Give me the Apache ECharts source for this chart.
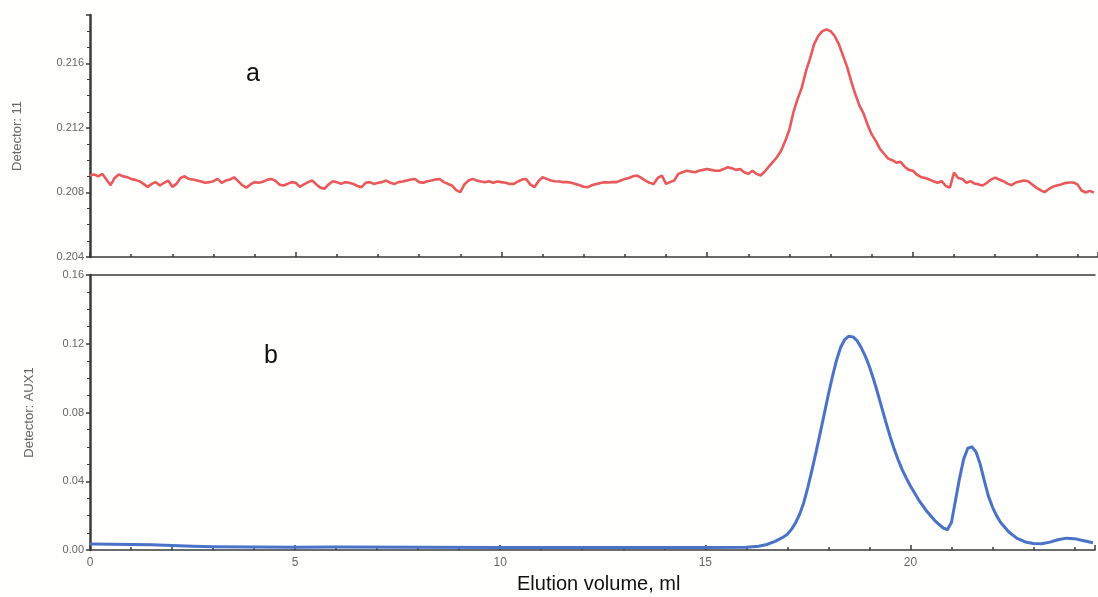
<!DOCTYPE html>
<html>
<head>
<meta charset="utf-8">
<script src="https://cdn.jsdelivr.net/npm/echarts@6/dist/echarts.min.js"></script>
<style>
html,body{margin:0;padding:0;background:#fff;}
#c{width:1098px;height:597px;}
</style>
</head>
<body>
<div id="c"></div>
<script>
// Elution volume (ml) grid for detector 11, step 0.1 from 0 to 24.4
const redStart = 0, redStep = 0.1;
const redValues = [
  0.20905,0.20912,0.20900,0.20915,0.20880,0.20845,0.20890,0.20912,0.20900,0.20895,
  0.20884,0.20878,0.20870,0.20853,0.20835,0.20853,0.20864,0.20843,0.20860,0.20874,
  0.20835,0.20853,0.20890,0.20900,0.20884,0.20880,0.20874,0.20868,0.20860,0.20864,
  0.20870,0.20884,0.20860,0.20874,0.20880,0.20894,0.20870,0.20845,0.20830,0.20850,
  0.20864,0.20860,0.20866,0.20878,0.20884,0.20874,0.20850,0.20843,0.20853,0.20864,
  0.20860,0.20835,0.20850,0.20864,0.20874,0.20850,0.20830,0.20823,0.20850,0.20870,
  0.20864,0.20853,0.20864,0.20860,0.20853,0.20840,0.20833,0.20860,0.20864,0.20853,
  0.20860,0.20864,0.20874,0.20860,0.20853,0.20864,0.20868,0.20874,0.20880,0.20884,
  0.20864,0.20860,0.20870,0.20874,0.20880,0.20884,0.20864,0.20853,0.20843,0.20815,
  0.20802,0.20850,0.20874,0.20884,0.20874,0.20868,0.20864,0.20870,0.20860,0.20868,
  0.20864,0.20860,0.20853,0.20853,0.20868,0.20880,0.20884,0.20850,0.20833,0.20870,
  0.20894,0.20884,0.20874,0.20870,0.20868,0.20864,0.20864,0.20860,0.20853,0.20845,
  0.20835,0.20833,0.20845,0.20853,0.20858,0.20864,0.20862,0.20864,0.20864,0.20874,
  0.20884,0.20890,0.20900,0.20905,0.20890,0.20874,0.20860,0.20853,0.20890,0.20905,
  0.20853,0.20864,0.20874,0.20915,0.20925,0.20935,0.20930,0.20925,0.20935,0.20940,
  0.20946,0.20940,0.20935,0.20935,0.20945,0.20956,0.20950,0.20940,0.20946,0.20925,
  0.20915,0.20935,0.20915,0.20905,0.20930,0.20960,0.20990,0.21020,0.21060,0.21120,
  0.21190,0.21300,0.21380,0.21450,0.21550,0.21630,0.21720,0.21770,0.21800,0.21810,
  0.21800,0.21770,0.21720,0.21650,0.21580,0.21490,0.21410,0.21340,0.21290,0.21220,
  0.21160,0.21120,0.21070,0.21040,0.21010,0.21000,0.20985,0.20990,0.20960,0.20940,
  0.20935,0.20910,0.20895,0.20890,0.20880,0.20870,0.20860,0.20870,0.20840,0.20830,
  0.20923,0.20890,0.20884,0.20860,0.20870,0.20855,0.20850,0.20843,0.20860,0.20880,
  0.20892,0.20880,0.20870,0.20855,0.20845,0.20862,0.20868,0.20874,0.20870,0.20850,
  0.20830,0.20815,0.20802,0.20820,0.20835,0.20843,0.20850,0.20858,0.20862,0.20862,
  0.20850,0.20812,0.20800,0.20810,0.20800
];

// Detector AUX1: elution volume (ml) and absorbance
const blueX = [0,0.5,1,1.5,2,2.5,3,4,5,6,8,10,12,14,15,16,16.3,16.5,16.7,16.9,
  17.0,17.1,17.2,17.3,17.4,17.5,17.6,17.7,17.8,17.9,18.0,18.1,18.2,18.3,18.4,18.5,18.6,18.7,18.8,18.9,
  19.0,19.1,19.2,19.3,19.4,19.5,19.6,19.7,19.8,19.9,20.0,20.2,20.4,20.6,20.8,20.9,
  21.0,21.1,21.2,21.3,21.4,21.5,21.6,21.7,21.8,21.9,22.0,22.1,22.2,22.4,22.6,22.8,
  23.0,23.2,23.4,23.6,23.8,24.0,24.2,24.45];
const blueY = [0.0035,0.0034,0.0032,0.0030,0.0026,0.0022,0.0019,0.0017,0.0016,0.0017,0.0016,0.0015,0.0015,0.0015,0.0015,0.0016,0.0022,0.0032,0.0050,0.0075,
  0.0092,0.0120,0.0158,0.0208,0.0275,0.0365,0.0465,0.0570,0.0680,0.0792,0.0905,0.1010,0.1105,0.1180,0.1225,0.1244,0.1240,0.1218,0.1178,0.1128,
  0.1068,0.0995,0.0915,0.0830,0.0745,0.0665,0.0590,0.0525,0.0468,0.0418,0.0372,0.0292,0.0225,0.0170,0.0128,0.0118,
  0.0160,0.0290,0.0420,0.0530,0.0592,0.0600,0.0570,0.0500,0.0405,0.0315,0.0250,0.0200,0.0160,0.0105,0.0068,0.0047,
  0.0038,0.0036,0.0046,0.0060,0.0069,0.0066,0.0055,0.0042];

const xTicks = [0,5,10,15,20];
const topTicks = [0.204,0.208,0.212,0.216];
const bottomTicks = [0.00,0.04,0.08,0.12,0.16];

const redData = redValues.map((v,i)=>[+(redStart + i*redStep).toFixed(1), v]);
const blueData = blueX.map((x,i)=>[x, blueY[i]]);

const axisCol = '#3a3a3a';
const labelCol = '#666';
const font = 'Liberation Sans, Arial, sans-serif';

const chart = echarts.init(document.getElementById('c'), null, {renderer:'canvas'});
chart.setOption({
  backgroundColor:'#fefefc',
  animation:false,
  grid:[
    {left:90,right:0,top:15,height:242},
    {left:90,right:0,top:275,height:275}
  ],
  xAxis:[
    {gridIndex:0,type:'value',min:0,max:24.5,interval:5,position:'bottom',
     axisLine:{onZero:false,lineStyle:{color:axisCol,width:1.5}},
     axisTick:{inside:true,length:5,lineStyle:{color:axisCol,width:1.5}},
     minorTick:{show:true,splitNumber:5,length:3,lineStyle:{color:axisCol,width:1.5}},
     axisLabel:{show:false},splitLine:{show:false}},
    {gridIndex:1,type:'value',min:0,max:24.5,interval:5,position:'bottom',
     axisLine:{onZero:false,lineStyle:{color:axisCol,width:1.5}},
     axisTick:{inside:true,length:5,lineStyle:{color:axisCol,width:1.5}},
     minorTick:{show:true,splitNumber:5,length:3,lineStyle:{color:axisCol,width:1.5}},
     axisLabel:{color:labelCol,fontSize:12,fontFamily:font,margin:7,
       formatter:v=>xTicks.includes(v)?String(v):''},
     splitLine:{show:false}},
    {gridIndex:1,type:'value',min:0,max:24.5,position:'top',
     axisLine:{onZero:false,lineStyle:{color:axisCol,width:1.5}},
     axisTick:{show:false},axisLabel:{show:false},splitLine:{show:false}}
  ],
  yAxis:[
    {gridIndex:0,type:'value',min:0.204,max:0.219,interval:0.004,
     name:'Detector: 11',nameLocation:'middle',nameGap:66,nameRotate:90,
     nameTextStyle:{color:labelCol,fontSize:13,fontFamily:font},
     axisLine:{onZero:false,lineStyle:{color:axisCol,width:2.5}},
     axisTick:{length:4,lineStyle:{color:axisCol,width:1.5}},
     minorTick:{show:true,splitNumber:4,length:3,lineStyle:{color:axisCol,width:1}},
     axisLabel:{color:labelCol,fontSize:11,fontFamily:font,margin:6,
       formatter:v=>topTicks.some(t=>Math.abs(t-v)<1e-7)?v.toFixed(3):''},
     splitLine:{show:false}},
    {gridIndex:1,type:'value',min:0,max:0.16,interval:0.04,
     name:'Detector: AUX1',nameLocation:'middle',nameGap:54,nameRotate:90,
     nameTextStyle:{color:labelCol,fontSize:13,fontFamily:font},
     axisLine:{onZero:false,lineStyle:{color:axisCol,width:2.5}},
     axisTick:{length:4,lineStyle:{color:axisCol,width:1.5}},
     minorTick:{show:true,splitNumber:4,length:3,lineStyle:{color:axisCol,width:1}},
     axisLabel:{color:labelCol,fontSize:11,fontFamily:font,margin:6,
       formatter:v=>bottomTicks.some(t=>Math.abs(t-v)<1e-7)?v.toFixed(2):''},
     splitLine:{show:false}}
  ],
  series:[
    {type:'line',xAxisIndex:0,yAxisIndex:0,data:redData,showSymbol:false,
     lineStyle:{color:'#e9585a',width:2.6},itemStyle:{color:'#e9585a'}},
    {type:'line',xAxisIndex:1,yAxisIndex:1,data:blueData,showSymbol:false,smooth:false,
     lineStyle:{color:'#4a72c6',width:3,join:'round'},itemStyle:{color:'#4a72c6'}}
  ],
  graphic:[
    {type:'text',left:246,top:62,style:{text:'a',fontSize:25,fontFamily:font,fill:'#111'}},
    {type:'text',left:264,top:344,style:{text:'b',fontSize:25,fontFamily:font,fill:'#111'}},
    {type:'text',left:517,top:574,style:{text:'Elution volume, ml',fontSize:20,fontFamily:font,fill:'#111'}}
  ]
});
</script>
</body>
</html>
